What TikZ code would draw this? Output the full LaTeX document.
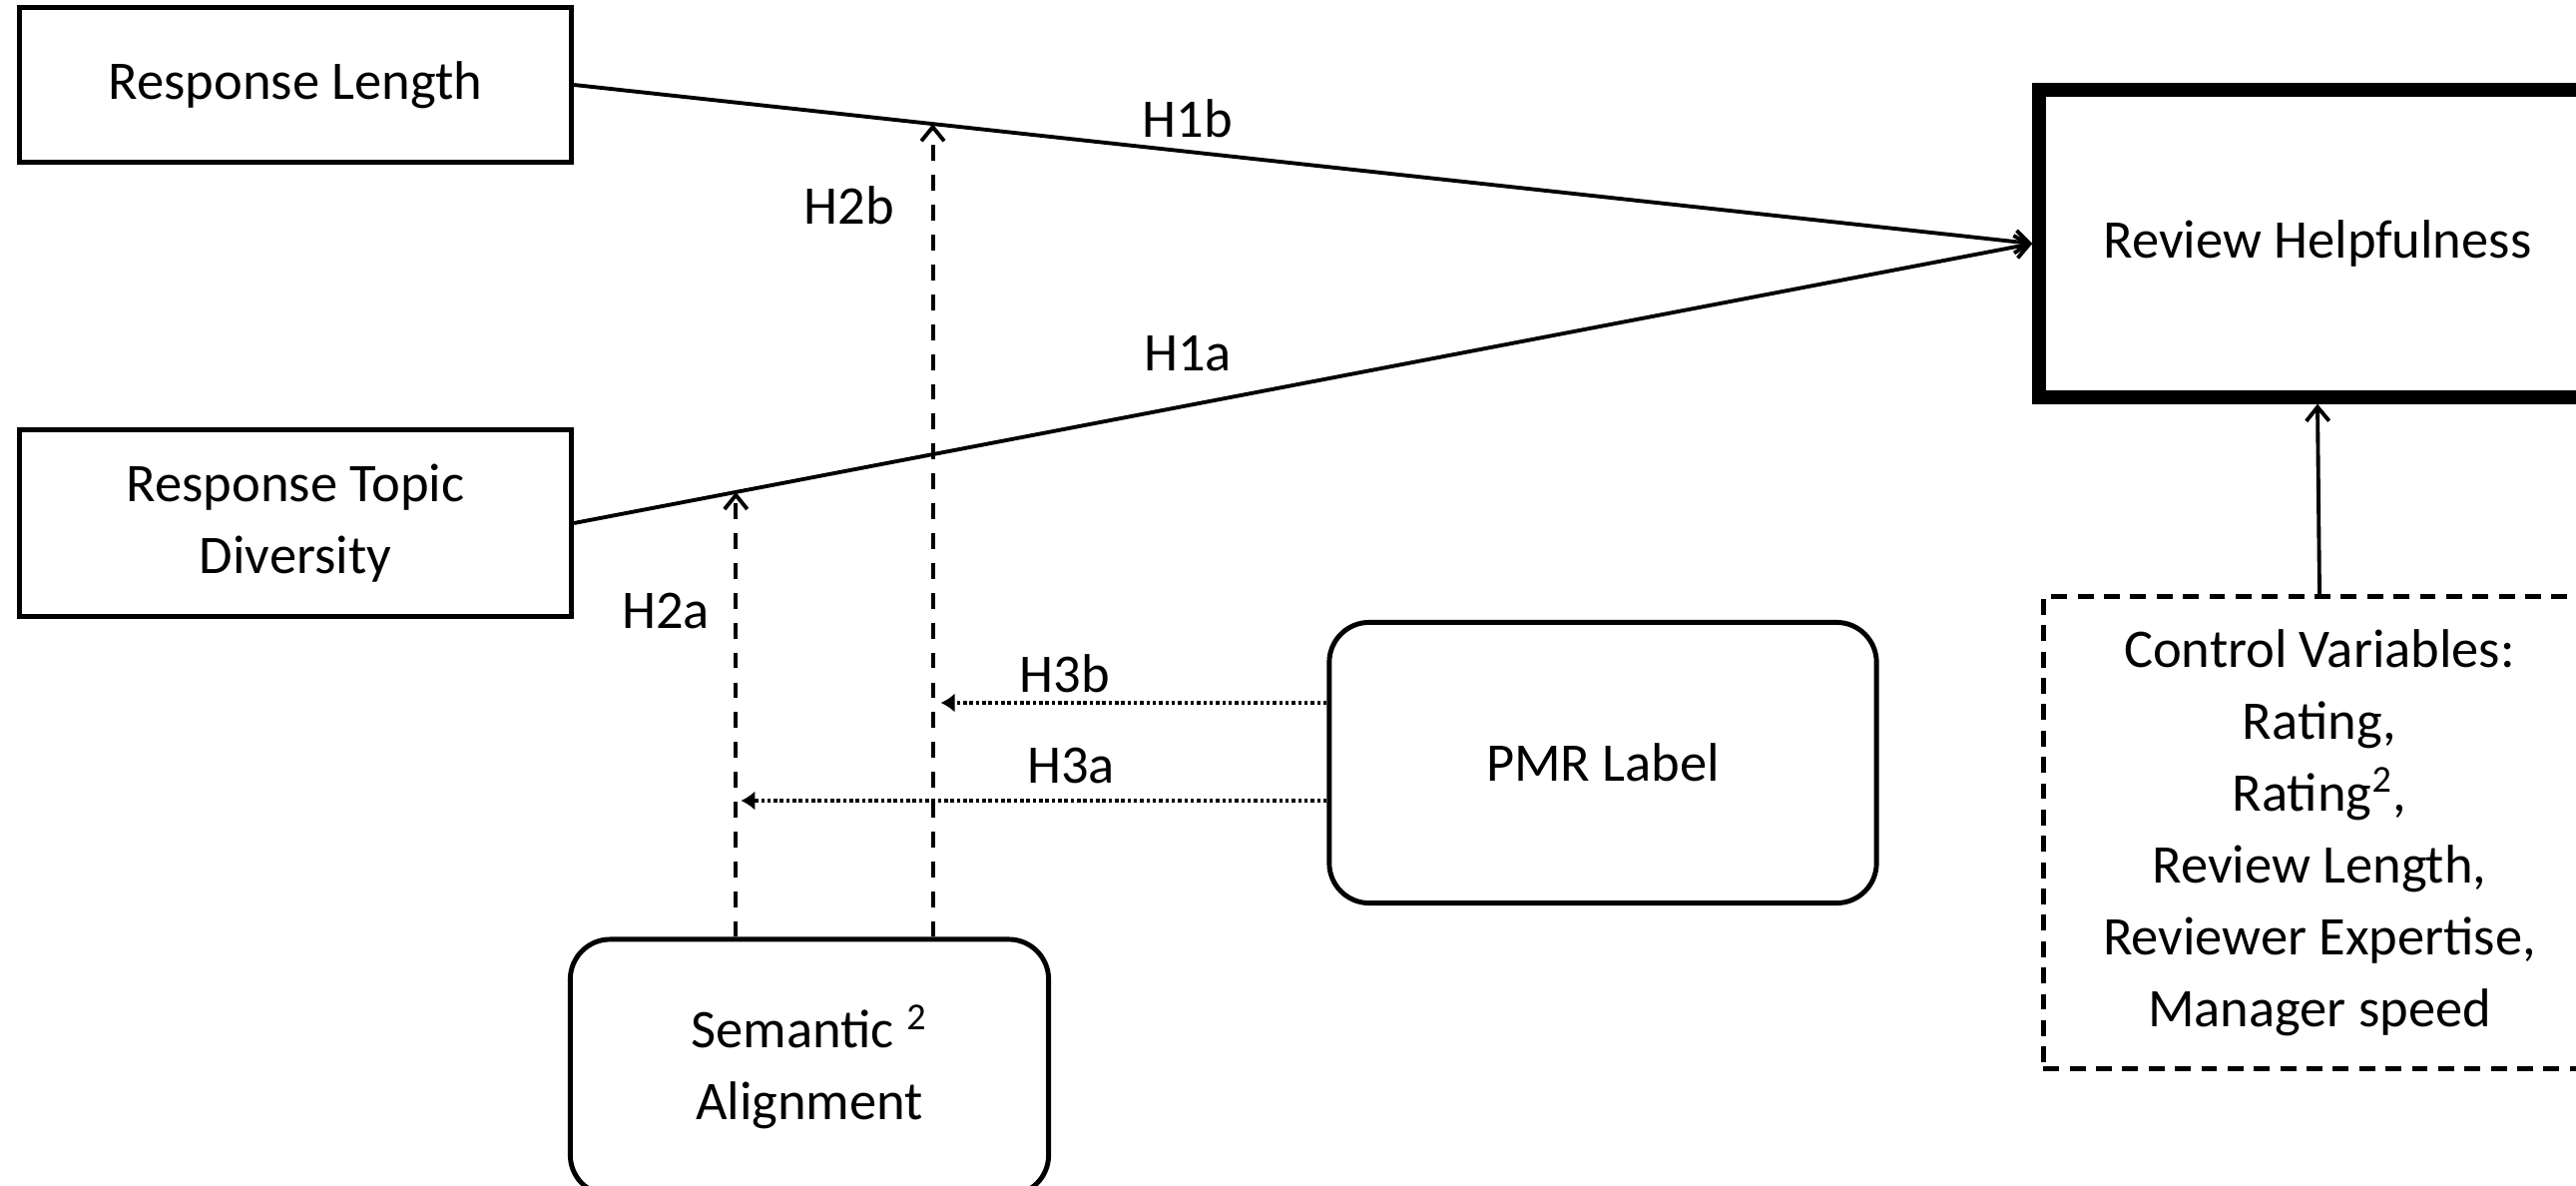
\documentclass[tikz,border=0pt]{standalone}
\usepackage{fontspec}
\setmainfont{Carlito}
\usetikzlibrary{arrows.meta}
\usetikzlibrary{calc}

\tikzset{
	conn/.style={line width=1.1pt, -{Straight Barb[length=4pt,width=6.5pt]}},
	dashconn/.style={line width=1.1pt, dash pattern=on 4.5pt off 4pt, -{Straight Barb[length=4pt,width=6.5pt]}},
	dotconn/.style={line width=1.2pt, dash pattern=on 1pt off 0.8pt, -{Latex[length=4pt,width=5.5pt]}},
}

\begin{document}
\begin{tikzpicture}[x=0.01cm, y=-0.01cm, font=\fontsize{15.5}{20.5}\selectfont]
	\useasboundingbox (0,0) rectangle (2581,1188);
	\clip (0,0) rectangle (2581,1188);
	\begin{scope} [every node/.style={draw, line width=1.4pt, align=center, inner sep=0pt}]
		\node[minimum width=5.53cm, minimum height=1.55cm] (rl) at (296,85) {Response Length};
		\node[minimum width=5.53cm, minimum height=1.86cm] (rtd) at (296,524) {Response Topic\\Diversity};
		\node[line width=4pt, minimum width=5.57cm, minimum height=3.07cm] (rh) at (2322,244) {Review Helpfulness};
		\node[dash pattern=on 4.5pt off 3pt, minimum width=5.53cm, minimum height=4.73cm] (cv) at (2324,834)
			{Control Variables:\\Rating,\\Rating\textsuperscript{2},\\Review Length,\\Reviewer Expertise,\\Manager speed};
		\node[rounded corners=0.4cm, minimum width=5.48cm, minimum height=2.81cm] (pmr) at (1606,764) {PMR Label};
		\node[rounded corners=0.4cm, minimum width=4.79cm, minimum height=2.56cm] (sa) at (811,1069) {Semantic \textsuperscript{2}\\Alignment};
	\end{scope}
	% main effects
	\draw[conn] (rl.east) -- (rh.west);
	\draw[conn] (rtd.east) -- (rh.west);
	\draw[conn] (cv.north) -- (rh.south);
	% moderation
	\coordinate (m2b) at ($(rl.east)!0.246!(rh.west)$);
	\coordinate (m2a) at ($(rtd.east)!0.111!(rh.west)$);
	\draw[dashconn] (m2b |- sa.north) -- (m2b);
	\draw[dashconn] (m2a |- sa.north) -- (m2a);
	\coordinate (s3b) at ($(pmr.west)+(0,-60)$);
	\coordinate (s3a) at ($(pmr.west)+(0,38)$);
	\coordinate (e3b) at ($(s3b -| m2b)+(8,0)$);
	\coordinate (e3a) at ($(s3a -| m2a)+(5,0)$);
	\draw[dotconn] (s3b) -- (e3b);
	\draw[dotconn] (s3a) -- (e3a);
	% labels
	\node (h1b) at (1190,119) {H1b};
	\node (h1a) at (1190,354) {H1a};
	\node (h2b) at (851,206) {H2b};
	\node (h2a) at (667,612) {H2a};
	\node (h3b) at (1067,675) {H3b};
	\node (h3a) at (1073,767) {H3a};
\end{tikzpicture}
\end{document}
